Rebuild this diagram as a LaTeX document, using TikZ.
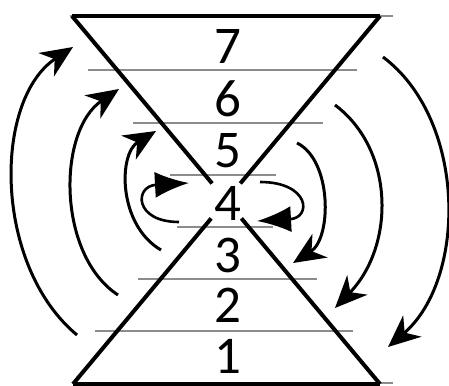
\documentclass[tikz,border=0pt]{standalone}
\usepackage{fontspec}
\setmainfont{Carlito}
\usetikzlibrary{arrows.meta,calc}
\begin{document}
\begin{tikzpicture}[x=1pt,y=-1pt,
  mainline/.style={line width=4pt,black},
  greyline/.style={line width=1.6pt,black!45},
  bigarrow/.style={line width=3pt,-{Stealth[length=32pt,width=28pt,inset=10pt]}},
  loopArrow/.style={line width=2.6pt,-{Latex[length=34pt,width=26pt]}},
  digit/.style={font=\fontsize{53}{53}\selectfont,inner sep=0pt}]
\useasboundingbox (0,0) rectangle (449,385);
\fill[white] (0,0) rectangle (449,385);
% horizontal lines
\draw[greyline] (70,16) -- (393,16);
\draw[greyline] (88,70) -- (357,70);
\draw[greyline] (133,123) -- (323,123);
\draw[greyline] (170,175) -- (276,175);
\draw[greyline] (177,227) -- (273,227);
\draw[greyline] (138,279) -- (317,279);
\draw[greyline] (95,331) -- (353,331);
\draw[greyline] (75,383) -- (393,383);
% hourglass
\coordinate (tl) at (72,16);
\coordinate (tr) at (380,16);
\coordinate (bl) at (73,384);
\coordinate (br) at (380,384);
\draw[mainline] (tl) -- (tr);
\draw[mainline] (bl) -- (br);
\draw[mainline] (tl) -- ($(tl)!0.455!(br)$);
\draw[mainline] ($(tl)!0.55!(br)$) -- (br);
\draw[mainline] (tr) -- ($(tr)!0.455!(bl)$);
\draw[mainline] ($(tr)!0.55!(bl)$) -- (bl);
% digits
\node[digit] (n7) at (228,46) {7};
\node[digit] (n6) at (228,99) {6};
\node[digit] (n5) at (228,151) {5};
\node[digit] (n4) at (228,203) {4};
\node[digit] (n3) at (228,255) {3};
\node[digit] (n2) at (228,305) {2};
\node[digit] (n1) at (228,356) {1};
% left arrows (upward)
\coordinate (a1s) at (77,335); \coordinate (a1e) at (73,47);
\coordinate (a2s) at (118,295); \coordinate (a2e) at (119,89);
\coordinate (a3s) at (161,250); \coordinate (a3e) at (156,131);
\draw[bigarrow] (a1s) .. controls (-7,265) and (-7,100) .. (a1e);
\draw[bigarrow] (a2s) .. controls (57,255) and (57,131) .. (a2e);
\draw[bigarrow] (a3s) .. controls (118,225) and (118,154) .. (a3e);
% right arrows (downward)
\coordinate (b1s) at (383,57); \coordinate (b1e) at (388,347);
\coordinate (b2s) at (335,105); \coordinate (b2e) at (335,308);
\coordinate (b3s) at (297,143); \coordinate (b3e) at (293,263);
\draw[bigarrow] (b1s) .. controls (467,120) and (467,279) .. (b1e);
\draw[bigarrow] (b2s) .. controls (395,150) and (395,246) .. (b2e);
\draw[bigarrow] (b3s) .. controls (332,160) and (332,238) .. (b3e);
% small loops around 4
\coordinate (c1s) at (179,222); \coordinate (c1e) at (189,183);
\coordinate (c2s) at (260,182); \coordinate (c2e) at (257,221);
\draw[loopArrow] (c1s) .. controls (134,222) and (134,186) .. (c1e);
\draw[loopArrow] (c2s) .. controls (310,182) and (312,218) .. (c2e);
\end{tikzpicture}
\end{document}
